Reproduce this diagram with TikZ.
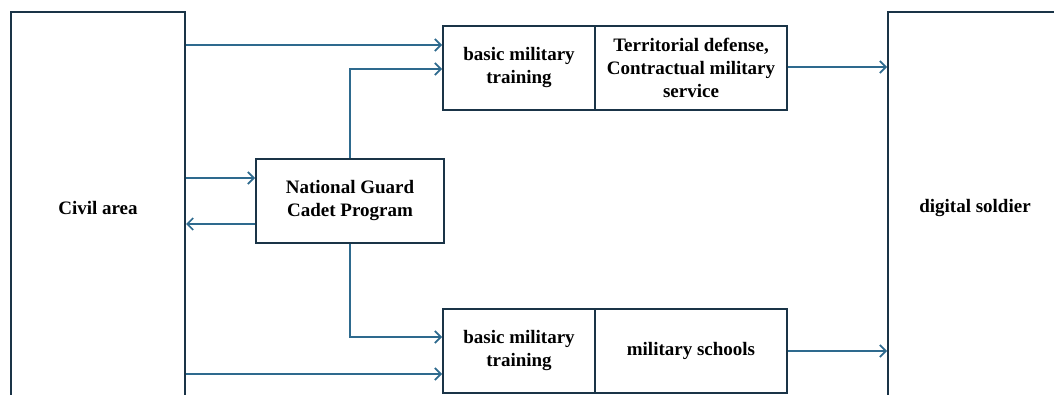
\documentclass[tikz,border=0pt]{standalone}
\usepackage{fontspec}
\setmainfont{Liberation Serif}
\usetikzlibrary{arrows.meta}
\definecolor{boxline}{HTML}{1A3447}
\definecolor{arrowcol}{HTML}{2E6A8E}
\begin{document}
\begin{tikzpicture}[x=1pt,y=-1pt,
  box/.style={draw=boxline,line width=2pt,rectangle,inner sep=0pt,align=center,
    font=\bfseries\fontsize{19}{23}\selectfont},
  arr/.style={draw=arrowcol,line width=1.7pt,-{Straight Barb[length=6pt,width=12pt,line width=1.7pt]}}]
\useasboundingbox (0,0) rectangle (1054,395);
\clip (0,0) rectangle (1054,395);
\fill[white] (0,0) rectangle (1054,395);
\node[box,minimum width=174pt,minimum height=392pt] (civil) at (98,208) {Civil area};
\node[box,minimum width=174pt,minimum height=392pt] (digital) at (975,208) {digital soldier};
\node[box,minimum width=152pt,minimum height=84pt] (topL) at (519,68) {basic military\\training};
\node[box,minimum width=192pt,minimum height=84pt] (topR) at (691,68) {Territorial defense,\\Contractual military\\service};
\node[box,minimum width=152pt,minimum height=84pt] (botL) at (519,351) {basic military\\training};
\node[box,minimum width=192pt,minimum height=84pt] (botR) at (691,351) {military schools};
\node[box,minimum width=188pt,minimum height=84pt] (ng) at (350,201) {National Guard\\Cadet Program};
\draw[arr] (civil.east |- 0,45) -- (topL.west |- 0,45);
\draw[arr] (ng.north) |- (topL.west |- 0,69);
\draw[arr] (civil.east |- 0,178) -- (ng.west |- 0,178);
\draw[arr] (ng.west |- 0,224) -- (civil.east |- 0,224);
\draw[arr] (ng.south) |- (botL.west |- 0,337);
\draw[arr] (civil.east |- 0,374) -- (botL.west |- 0,374);
\draw[arr] (topR.east |- 0,67) -- (digital.west |- 0,67);
\draw[arr] (botR.east) -- (digital.west |- botR.east);
\end{tikzpicture}
\end{document}
